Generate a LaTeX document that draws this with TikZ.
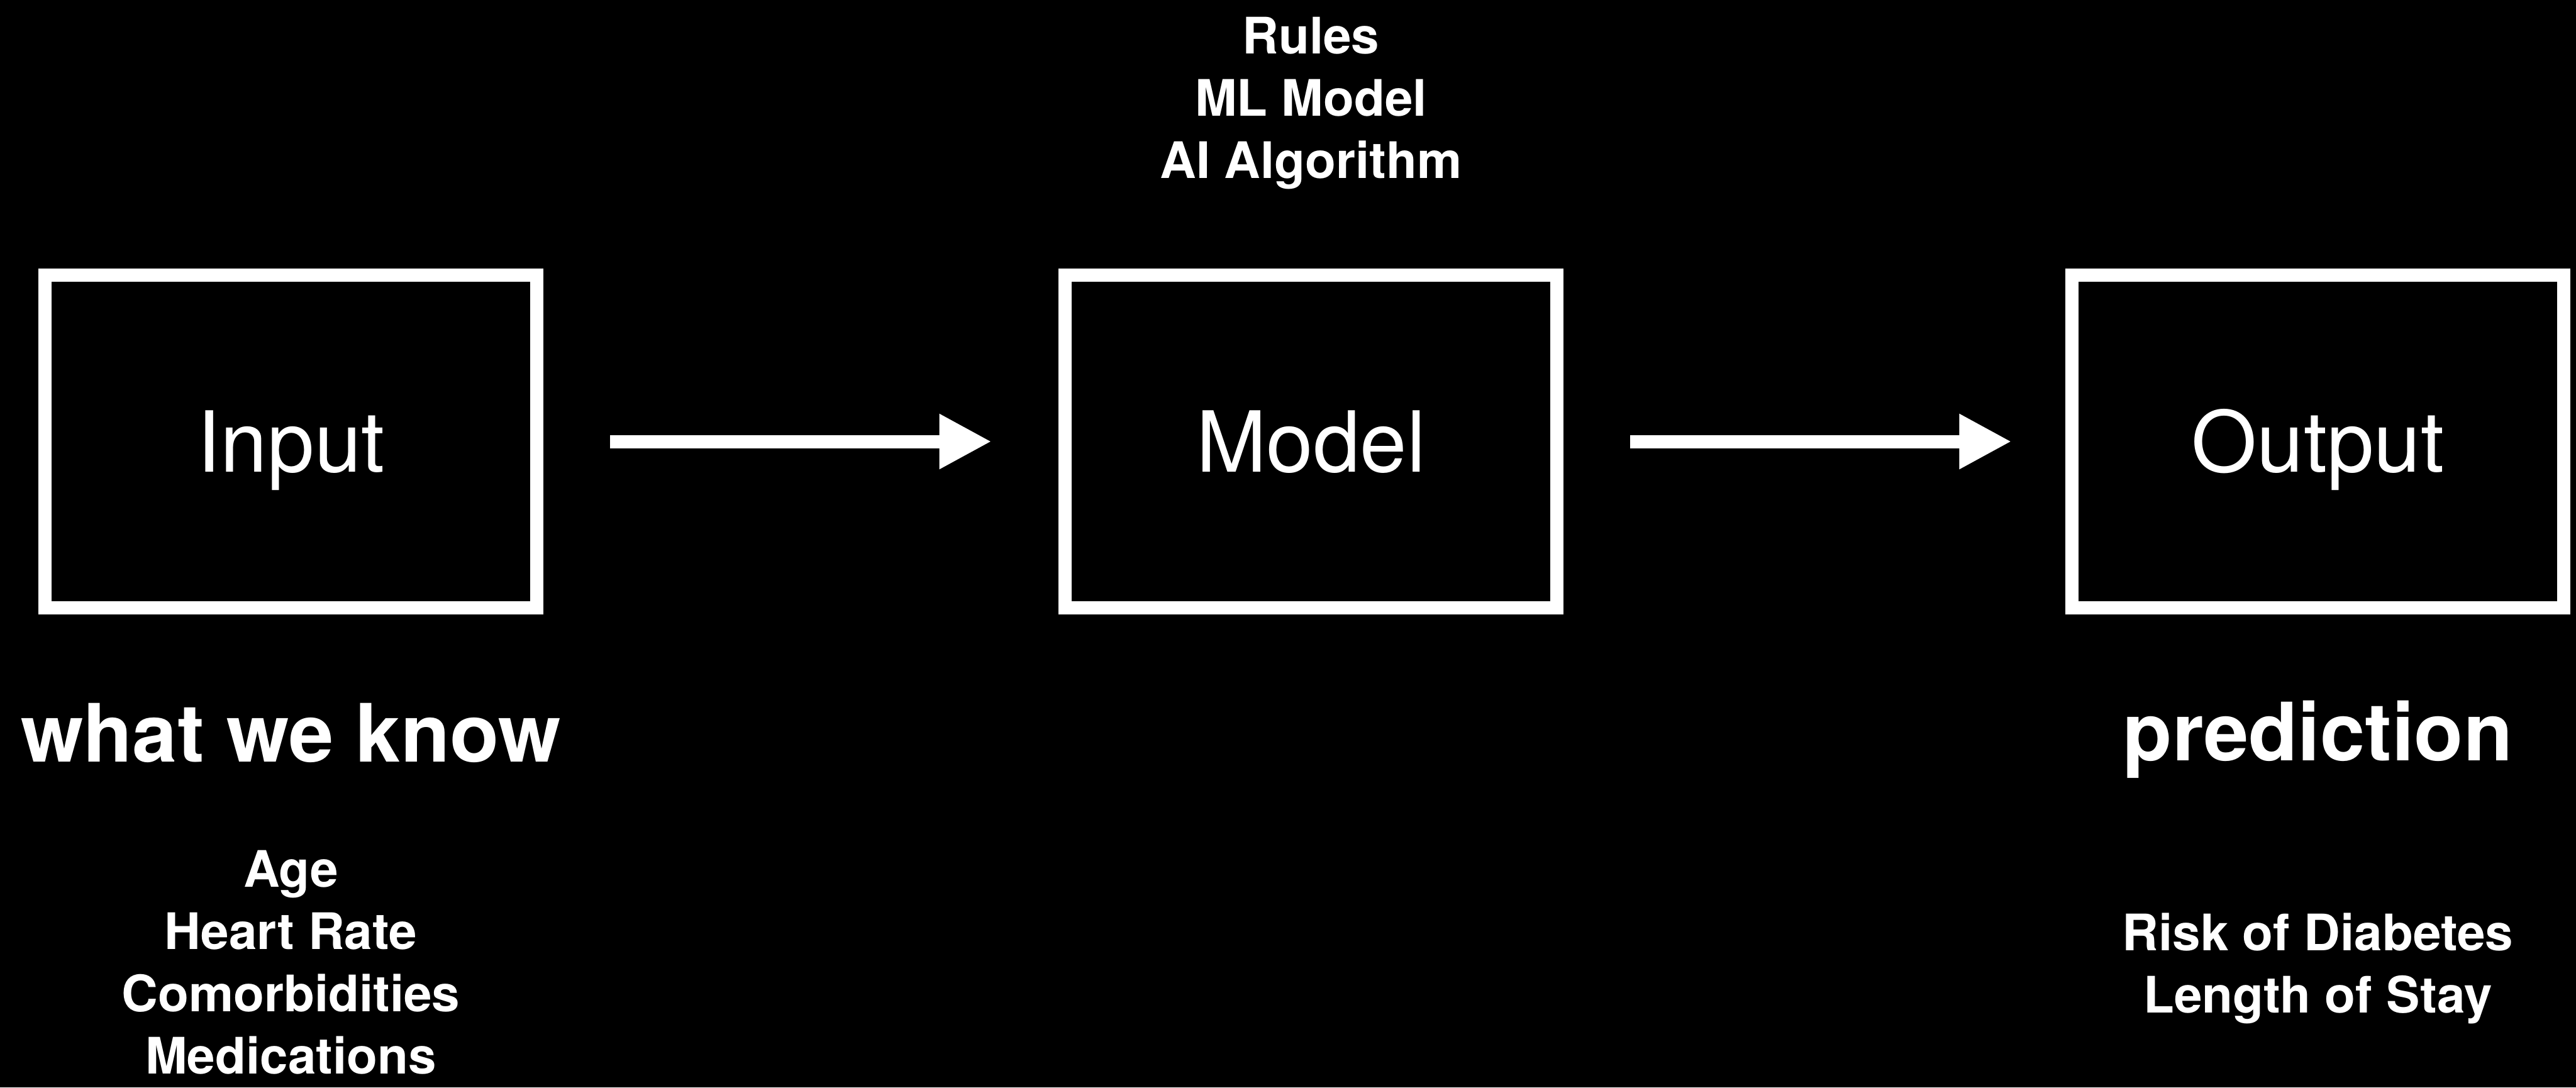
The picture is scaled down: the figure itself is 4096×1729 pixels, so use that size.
\documentclass[tikz,border=0pt]{standalone}
\usepackage{fontspec}
\setmainfont{TeX Gyre Heros}
\usetikzlibrary{arrows.meta,positioning}
\begin{document}
\begin{tikzpicture}[x=0.25pt,y=-0.25pt,
  stage/.style={draw=white,line width=5.25pt,minimum width=195.5pt,minimum height=132.25pt,
    inner sep=0pt,text=white,text height=24pt,text depth=0pt,font=\fontsize{33.5}{40}\selectfont},
  caption/.style={anchor=base,inner sep=0pt,text=white,font=\fontsize{32}{38}\selectfont\bfseries},
  items/.style={anchor=base,inner sep=0pt,align=center,text=white,font=\fontsize{20}{24.75}\selectfont\bfseries},
  flow/.style={white,line width=5.25pt,-{Triangle[length=20.75pt,width=20.5pt]}}]
\useasboundingbox (0,0) rectangle (4096,1729);
\fill[black] (0,0) rectangle (4096,1729);
% the three stages
\node[stage] (input) at (462.5,702) {Input};
\node[stage] (model) at (2084.5,702) {Model};
\node[stage] (output) at (3685.5,702) {Output};
\draw[flow] ([xshift=26.6pt]input.east) -- ([xshift=-26.6pt]model.west);
\draw[flow] ([xshift=26.6pt]model.east) -- ([xshift=-21.4pt]output.west);
% labels round the stages (base = last line)
\node[items] (kinds) at (2084.5,283) {Rules\\ML Model\\AI Algorithm};
\node[caption] (known) at (462.5,1211) {what we know};
\node[items] (features) at (462.5,1707) {Age\\Heart Rate\\Comorbidities\\Medications};
\node[caption] (pred) at (3685.5,1209) {prediction};
\node[items] (targets) at (3685.5,1610) {Risk of Diabetes\\Length of Stay};
\end{tikzpicture}
\end{document}
